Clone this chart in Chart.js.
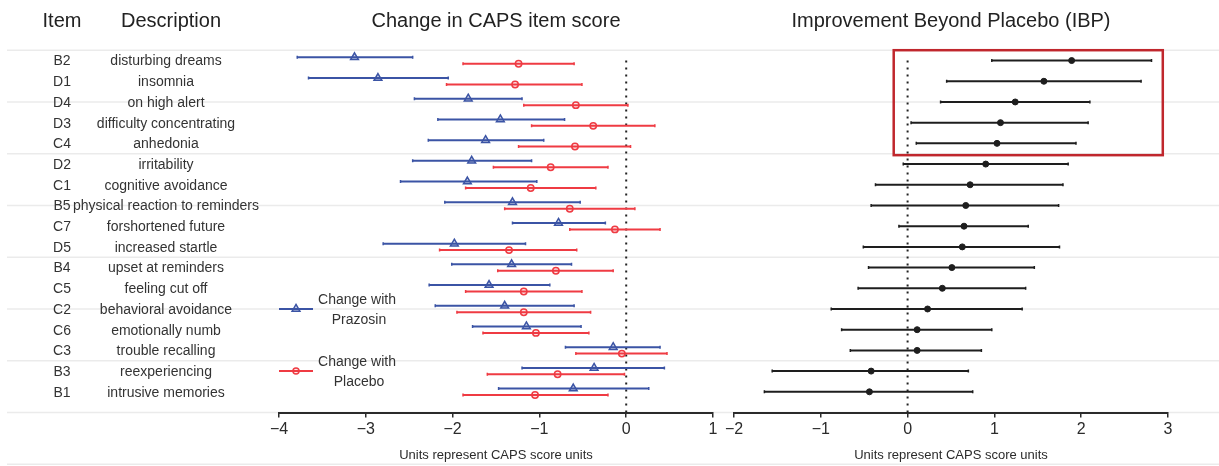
<!DOCTYPE html>
<html>
<head>
<meta charset="utf-8">
<script src="https://cdn.jsdelivr.net/npm/chart.js@4/dist/chart.umd.min.js"></script>
<style>
html,body{margin:0;padding:0;background:#fff;}
#wrap{position:relative;width:1219px;height:466px;overflow:hidden;}
canvas{position:absolute;top:0;}
#changeChart{left:0;}
#ibpChart{left:720px;}
</style>
</head>
<body>
<div id="wrap">
  <canvas id="changeChart" width="720" height="466"></canvas>
  <canvas id="ibpChart" width="499" height="466"></canvas>
</div>
<script>
// rows top to bottom
const items=['B2','D1','D4','D3','C4','D2','C1','B5','C7','D5','B4','C5','C2','C6','C3','B3','B1'];
const descriptions=['disturbing dreams','insomnia','on high alert','difficulty concentrating','anhedonia','irritability','cognitive avoidance','physical reaction to reminders','forshortened future','increased startle','upset at reminders','feeling cut off','behavioral avoidance','emotionally numb','trouble recalling','reexperiencing','intrusive memories'];

const prazosinMean=[-3.13,-2.86,-1.82,-1.45,-1.62,-1.78,-1.83,-1.31,-0.78,-1.98,-1.32,-1.58,-1.40,-1.15,-0.15,-0.37,-0.61];
const prazosinLow=[-3.79,-3.66,-2.44,-2.17,-2.28,-2.46,-2.60,-2.09,-1.31,-2.80,-2.01,-2.27,-2.20,-1.77,-0.70,-1.20,-1.47];
const prazosinHigh=[-2.46,-2.05,-1.20,-0.71,-0.95,-1.09,-1.03,-0.53,-0.24,-1.16,-0.63,-0.88,-0.60,-0.52,0.39,0.44,0.26];

const placeboMean=[-1.24,-1.28,-0.58,-0.38,-0.59,-0.87,-1.10,-0.65,-0.13,-1.35,-0.81,-1.18,-1.18,-1.04,-0.05,-0.79,-1.05];
const placeboLow=[-1.88,-2.07,-1.18,-1.09,-1.24,-1.53,-1.85,-1.40,-0.65,-2.15,-1.48,-1.85,-1.95,-1.65,-0.58,-1.60,-1.88];
const placeboHigh=[-0.60,-0.51,0.02,0.33,0.05,-0.21,-0.35,0.10,0.39,-0.57,-0.15,-0.51,-0.41,-0.43,0.47,-0.02,-0.21];

const ibpMean=[1.89,1.57,1.24,1.07,1.03,0.90,0.72,0.67,0.65,0.63,0.51,0.40,0.23,0.11,0.11,-0.42,-0.44];
const ibpLow=[0.97,0.45,0.38,0.04,0.10,-0.05,-0.37,-0.42,-0.10,-0.51,-0.45,-0.57,-0.88,-0.76,-0.66,-1.56,-1.65];
const ibpHigh=[2.81,2.69,2.10,2.08,1.94,1.85,1.79,1.74,1.39,1.75,1.46,1.36,1.32,0.97,0.85,0.70,0.75];

const changeTicks=[-4,-3,-2,-1,0,1];
const ibpTicks=[-2,-1,0,1,2,3];
const bandLines=[-0.5,2,4.5,7,9.5,12,14.5,17,19.5];
const highlight={xMin:-0.16,xMax:2.94,yMin:-0.5,yMax:4.57};

const BLUE='#3b54a5', RED='#ef3b43', BLACK='#1e1e1e', TXT='#2b2b2b';
const OFF=0.155; // vertical dodge of the two series inside a row

Chart.defaults.font.family="'Liberation Sans', Arial, sans-serif";
Chart.defaults.color=TXT;

const fmt=v=>v<0?'\u2212'+Math.abs(v):String(v);

function errorBars(lo,hi,off,color){
  return lo.map((l,i)=>({data:[{x:l,y:i+off},{x:hi[i],y:i+off}],showLine:true,borderColor:color,borderWidth:2,
    pointStyle:'line',rotation:90,pointRadius:1.5,pointBorderWidth:1.5,pointBorderColor:color}));
}
function points(mean,off){return mean.map((v,i)=>({x:v,y:i+off}));}

function xScale(min,max,ticks){
  return {type:'linear',min:min,max:max,
    afterBuildTicks:s=>{s.ticks=ticks.map(v=>({value:v}));},
    afterFit:s=>{s.height=53.5;},
    ticks:{callback:fmt,font:{size:16},color:TXT,padding:2,maxRotation:0,autoSkip:false},
    grid:{drawOnChartArea:false,drawTicks:true,tickLength:5,color:TXT,lineWidth:1.5},
    border:{display:true,color:TXT,width:2},
    title:{display:true,text:'Units represent CAPS score units',font:{size:13},color:TXT,padding:{top:0,bottom:3}}};
}
const yScale={type:'linear',min:-0.5,max:17,reverse:true,display:false};

const zeroLine={data:[{x:0,y:0},{x:0,y:17}],showLine:true,borderColor:'#222',borderWidth:2,borderDash:[2,5],pointRadius:0};

// light band lines that run across the whole figure
const bands={id:'bands',beforeDraw(chart){
  const ctx=chart.ctx, y=chart.scales.y, x0=chart.canvas.id==='changeChart'?7:0;
  ctx.save();ctx.strokeStyle='#ebebeb';ctx.lineWidth=1.5;
  bandLines.forEach(v=>{const py=y.getPixelForValue(v);ctx.beginPath();ctx.moveTo(x0,py);ctx.lineTo(chart.width,py);ctx.stroke();});
  ctx.restore();
}};

// item table + legend on the left chart
const tableAndLegend={id:'tableAndLegend',afterDatasetsDraw(chart){
  const ctx=chart.ctx, y=chart.scales.y, a=chart.chartArea;
  ctx.save();
  ctx.textAlign='center';ctx.textBaseline='middle';
  ctx.fillStyle='#222';ctx.font="20px 'Liberation Sans', Arial, sans-serif";
  ctx.fillText('Item',62,21);ctx.fillText('Description',171,21);
  ctx.fillStyle='#333';ctx.font="14px 'Liberation Sans', Arial, sans-serif";
  items.forEach((it,i)=>{const py=y.getPixelForValue(i)+1;ctx.fillText(it,62,py);ctx.fillText(descriptions[i],166,py);});
  // legend
  const entries=[{row:12,color:BLUE,style:'triangle',r:4.5,fill:'rgba(59,84,165,0.25)',label:'Prazosin'},
                 {row:15,color:RED,style:'circle',r:3,fill:'rgba(239,59,67,0.12)',label:'Placebo'}];
  entries.forEach(en=>{
    const py=y.getPixelForValue(en.row);
    ctx.strokeStyle=en.color;ctx.lineWidth=2;
    ctx.beginPath();ctx.moveTo(a.left,py);ctx.lineTo(a.left+34,py);ctx.stroke();
    ctx.fillStyle=en.fill;ctx.lineWidth=1.5;
    Chart.helpers.drawPoint(ctx,{pointStyle:en.style,radius:en.r,borderWidth:1.5,rotation:0},a.left+17,py);
    ctx.fillStyle='#333';
    ctx.fillText('Change with',a.left+78,py-9);
    ctx.fillText(en.label,a.left+80,py+11);
  });
  ctx.restore();
}};

const highlightBox={id:'highlightBox',afterDatasetsDraw(chart){
  const ctx=chart.ctx, x=chart.scales.x, y=chart.scales.y;
  const l=x.getPixelForValue(highlight.xMin), r=x.getPixelForValue(highlight.xMax);
  const t=y.getPixelForValue(highlight.yMin), b=y.getPixelForValue(highlight.yMax);
  ctx.save();ctx.strokeStyle='#c0272d';ctx.lineWidth=2.5;ctx.strokeRect(l,t,r-l,b-t);ctx.restore();
}};

function baseOptions(title,padL,padR,xs){
  return {responsive:false,animation:false,events:[],
    layout:{padding:{left:padL,right:padR,top:0,bottom:0}},
    plugins:{legend:{display:false},tooltip:{enabled:false},
      title:{display:true,text:title,color:'#222',font:{size:20,weight:'normal'},padding:{top:9,bottom:17.2}}},
    scales:{x:xs,y:yScale}};
}

new Chart(document.getElementById('changeChart'),{
  type:'scatter',
  data:{datasets:[
    {data:points(prazosinMean,-OFF),pointStyle:'triangle',pointRadius:4.5,borderColor:BLUE,backgroundColor:'rgba(59,84,165,0.25)',borderWidth:1.5},
    {data:points(placeboMean,OFF),pointStyle:'circle',pointRadius:3.2,borderColor:RED,backgroundColor:'rgba(239,59,67,0.12)',borderWidth:1.5},
    ...errorBars(prazosinLow,prazosinHigh,-OFF,BLUE),
    ...errorBars(placeboLow,placeboHigh,OFF,RED),
    zeroLine
  ]},
  options:baseOptions('Change in CAPS item score',279,7,xScale(-4,1,changeTicks)),
  plugins:[bands,tableAndLegend]
});

new Chart(document.getElementById('ibpChart'),{
  type:'scatter',
  data:{datasets:[
    {data:points(ibpMean,0),pointStyle:'circle',pointRadius:3,borderColor:BLACK,backgroundColor:BLACK,borderWidth:1},
    ...errorBars(ibpLow,ibpHigh,0,BLACK),
    zeroLine
  ]},
  options:baseOptions('Improvement Beyond Placebo (IBP)',14,51,xScale(-2,3,ibpTicks)),
  plugins:[bands,highlightBox]
});
</script>
</body>
</html>
